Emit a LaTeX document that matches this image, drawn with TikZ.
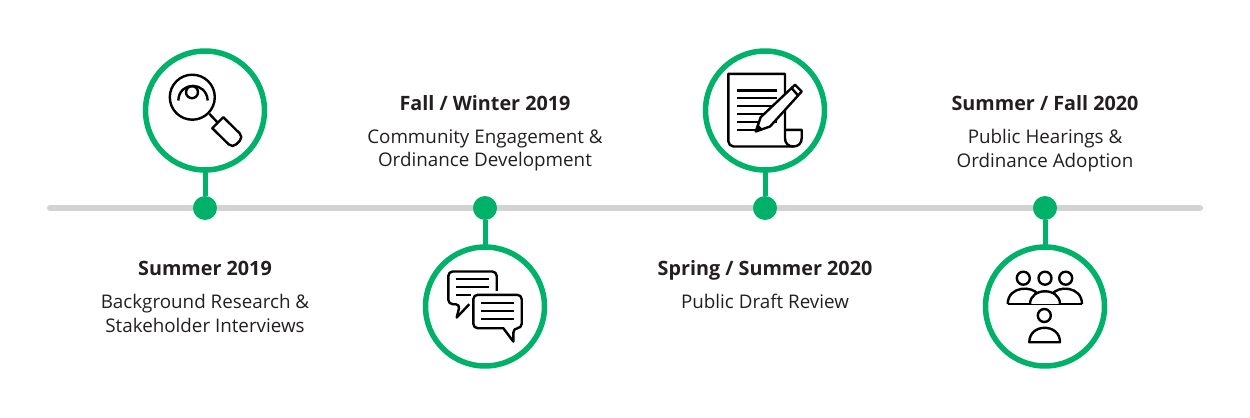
\documentclass[tikz,border=0pt]{standalone}
\usepackage{fontspec}
\setmainfont{Open Sans}
\usetikzlibrary{calc}
\usetikzlibrary{positioning}
\definecolor{TimeGreen}{RGB}{0,177,106}
\definecolor{TimeGray}{RGB}{209,211,212}
\definecolor{TimeText}{RGB}{35,31,32}
\newcommand{\drawLens}[1]{
	\begin{scope}[shift={(#1)},Icon]
		%Glass and eye
		\draw (-12.7,13.3) circle (22.5);
		\draw (-13,18.3) circle (6);
		\draw (-26.7,10) .. controls (-26,29.5) and (1.5,29.5) .. (2.7,10);
		%Handle
		\draw (4.3,-3.3) -- (12.8,-12.2);
		\draw (7.3,-17.7) -- (18.3,-6.7) [rounded corners=3pt] -- (38.5,-26.6) -- (27.5,-37.6) [sharp corners] -- cycle;
	\end{scope}
}
\newcommand{\drawChat}[1]{
	\begin{scope}[shift={(#1)},Icon]
		\draw[rounded corners=2.5pt] (11.7,15.7) -- (11.7,35) -- (-36.7,35) -- (-36.7,2.3) -- (-25,2.3) [sharp corners] -- (-28.3,-11) -- (-15.7,2.3);
		\draw[rounded corners=2.5pt] (18.3,-21.7) -- (-11.7,-21.7) -- (-11.7,11.7) -- (36.7,11.7) -- (36.7,-21.7) -- (28.3,-21.7) [sharp corners] -- (28.3,-35) -- cycle;
		\foreach \y in {27.3,19.7}
			\draw (-29.3,\y) -- (4.3,\y);
		\draw (-29.3,11.7) -- (-14,11.7);
		\foreach \y in {3.3,-4.7,-12.7}
			\draw (-4,\y) -- (29.3,\y);
	\end{scope}
}
\newcommand{\drawScroll}[1]{
	\begin{scope}[shift={(#1)},Icon]
		%Sheet with its curl
		\draw (20,-19.3) -- (20,36.7) -- (-36.7,36.7) [rounded corners=3pt] -- (-36.7,-36) [sharp corners] -- (28.3,-36);
		\draw (20,-19.3) -- (36.7,-19.3) -- (36.7,-27.7) .. controls (36.7,-33) and (33,-36) .. (28.3,-36) .. controls (23.5,-36) and (20,-33) .. (20,-27.7) -- cycle;
		\foreach \y in {20,12.3,4.3,-3.7,-11.7}
			\draw (-28.3,\y) -- (12.3,\y);
		\draw (-28.3,-19.7) -- (-8.3,-19.7);
		%Pencil
		\draw[fill=white] (-9.3,-21) -- (-4.3,-6.7) -- (30,25.7) -- (36.7,19) -- (5,-16) -- cycle;
		\draw (26.7,22.3) -- (33.3,14.7);
		\fill (-9.3,-21) -- (-6.8,-14) -- (-2.4,-18.5) -- cycle;
	\end{scope}
}
\newcommand{\drawPeople}[1]{
	\begin{scope}[shift={(#1)},Icon]
		\foreach \x in {-21.7,0,20.7}
			\draw (\x,28.3) circle (6.5);
		%Side shoulders, then the middle one over them
		\draw (-37.3,2.3) .. controls (-37.3,21) and (-12,21) .. (-7,12);
		\draw (37,2.3) .. controls (37,21) and (12,21) .. (7,12);
		\draw (-37.3,2.3) -- (37,2.3);
		\draw[fill=white] (-15,2.3) .. controls (-15,19.5) and (15,19.5) .. (15,2.3);
		%Front person
		\draw (-0.7,-9) circle (6.5);
		\draw[fill=white] (-15.7,-35.7) .. controls (-15.7,-16.5) and (15,-16.5) .. (15,-35.7) -- cycle;
	\end{scope}
}

\begin{document}
\begin{tikzpicture}[x=0.02cm,y=0.02cm]
		\tikzstyle{Icon} = [line width=0.048cm, black, line join=round]
		\tikzstyle{Ring} = [circle, draw=TimeGreen, fill=white, line width=0.11cm, minimum size=2.38cm, inner sep=0pt, outer sep=0pt]
		\tikzstyle{Dot} = [circle, fill=TimeGreen, minimum size=0.48cm, inner sep=0pt, outer sep=0pt]
		\tikzstyle{Stem} = [TimeGreen, line width=0.1cm]
		\tikzstyle{Rail} = [TimeGray, line width=0.12cm, line cap=round]
		\tikzstyle{Title} = [anchor=base, TimeText, font=\fontsize{11.25}{13}\selectfont\bfseries, inner sep=0pt]
		\tikzstyle{Body} = [anchor=north, TimeText, align=center, font=\fontsize{10.7}{13.27}\selectfont, inner sep=0pt]

		\useasboundingbox (0,0) rectangle (1250,417);

		%Draw the rail
		\coordinate (RailL) at (50,209);
		\coordinate (RailR) at (1200,209);
		\draw[Rail] (RailL) -- (RailR);

		%Draw dots
		\node[Dot](D1) at (205,209){};
		\node[Dot](D2) at (485,209){};
		\node[Dot](D3) at (765,209){};
		\node[Dot](D4) at (1045,209){};

		%Draw rings
		\node[Ring](R1) at ($(D1) + (0,97.5)$){};
		\node[Ring](R2) at ($(D2) - (0,98.5)$){};
		\node[Ring](R3) at ($(D3) + (0,97.5)$){};
		\node[Ring](R4) at ($(D4) - (0,98.5)$){};

		\draw[Stem] (D1) -- (R1);
		\draw[Stem] (D2) -- (R2);
		\draw[Stem] (D3) -- (R3);
		\draw[Stem] (D4) -- (R4);

		%Draw icons
		\drawLens{R1}
		\drawChat{R2}
		\drawScroll{R3}
		\drawPeople{R4}

		%Labels
		\node[Title](T1) at ($(D1) + (0,-67.7)$){Summer 2019};
		\node[Body](B1) at ($(T1.base) + (0,-18.5)$){Background Research \&\\Stakeholder Interviews};

		\node[Title](T2) at ($(D2) + (0,97.3)$){Fall / Winter 2019};
		\node[Body](B2) at ($(T2.base) + (0,-18.5)$){Community Engagement \&\\Ordinance Development};

		\node[Title](T3) at ($(D3) + (0,-67.7)$){Spring / Summer 2020};
		\node[Body](B3) at ($(T3.base) + (0,-18.5)$){Public Draft Review};

		\node[Title](T4) at ($(D4) + (0,97.3)$){Summer / Fall 2020};
		\node[Body](B4) at ($(T4.base) + (0,-18.5)$){Public Hearings \&\\Ordinance Adoption};
	\end{tikzpicture}
\end{document}
